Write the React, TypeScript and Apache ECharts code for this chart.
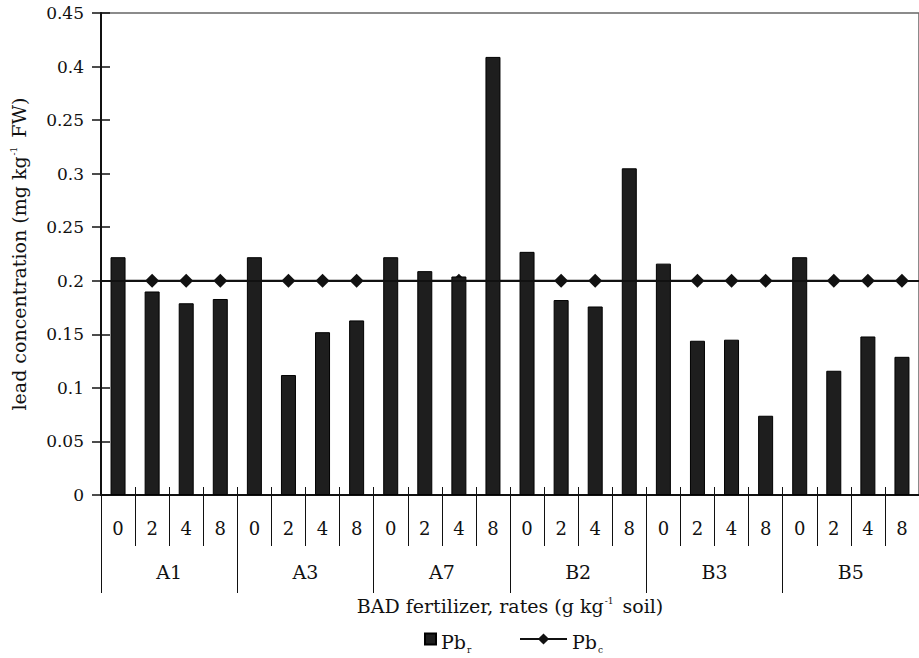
import React, { useEffect, useRef } from "react";
import * as echarts from "echarts";

const groups = ["A1", "A3", "A7", "B2", "B3", "B5"];
const rates = ["0", "2", "4", "8"];
const pbr = [
  0.222, 0.19, 0.179, 0.183,
  0.222, 0.112, 0.152, 0.163,
  0.222, 0.209, 0.204, 0.409,
  0.227, 0.182, 0.176, 0.305,
  0.216, 0.144, 0.145, 0.074,
  0.222, 0.116, 0.148, 0.129,
];
const pbc = [
  0.2, 0.2, 0.2, 0.2,
  0.2, 0.2, 0.2, 0.2,
  0.2, 0.2, 0.2, 0.2,
  0.2, 0.2, 0.2, 0.2,
  0.2, 0.2, 0.2, 0.2,
  0.2, 0.2, 0.2, 0.2,
];
const limitValue = 0.2;
const yTickLabels = ["0", "0.05", "0.1", "0.15", "0.2", "0.25", "0.3", "0.25", "0.4", "0.45"];

const FONT = "DejaVu Serif";
const INK = "#111";

export default function App() {
  const ref = useRef<HTMLDivElement>(null);
  useEffect(() => {
    if (!ref.current) return;
    const chart = echarts.init(ref.current, undefined, { renderer: "svg" });
    const cats: string[] = [];
    groups.forEach((g) => rates.forEach((r) => cats.push(r)));
    const txt = { fontFamily: FONT, color: INK };
    const legendRich = {
      b: { fontFamily: FONT, fontSize: 19, color: INK, lineHeight: 24, verticalAlign: "bottom" },
      s: { fontFamily: FONT, fontSize: 9, color: INK, lineHeight: 24, verticalAlign: "bottom", padding: [0, 0, -3, 1] },
    };
    const supRich = {
      sup: { fontFamily: FONT, fontSize: 9, color: INK, verticalAlign: "top", padding: [0, 3, 10, 1] },
    };
    chart.setOption({
      animation: false,
      backgroundColor: "#fff",
      grid: {
        left: 101, top: 13, width: 822, height: 482,
        show: true, borderColor: "#666", borderWidth: 1.5,
      },
      legend: [
        {
          data: ["Pbr"], left: 419, top: 627, icon: "rect",
          itemWidth: 11, itemHeight: 11, itemGap: 4,
          formatter: () => "{b|Pb}{s|r}",
          textStyle: { ...txt, rich: legendRich },
        },
        {
          data: ["Pbc"], left: 514, top: 627,
          itemWidth: 47, itemHeight: 14,
          formatter: () => "{b|Pb}{s|c}",
          textStyle: { ...txt, rich: legendRich },
        },
      ],
      xAxis: [
        {
          type: "category", data: cats, position: "bottom",
          axisLine: { show: true, lineStyle: { color: INK, width: 2 } },
          axisTick: { show: true, interval: 0, length: 51, lineStyle: { color: INK, width: 1 } },
          axisLabel: { interval: 0, margin: 24, fontSize: 18, ...txt },
          splitLine: { show: false },
        },
        {
          type: "category", data: groups, position: "bottom",
          axisLine: { show: false },
          axisTick: { show: true, interval: 0, length: 98, lineStyle: { color: INK, width: 1 } },
          axisLabel: { interval: 0, margin: 67, fontSize: 19, ...txt },
          splitLine: { show: false },
          name: "BAD fertilizer, rates (g kg{sup|-1} soil)",
          nameLocation: "middle", nameGap: 101,
          nameTextStyle: { ...txt, fontSize: 19, rich: supRich },
        },
        {
          type: "category", data: cats, position: "bottom",
          axisLine: { show: false },
          axisTick: { show: true, inside: true, interval: 0, length: 8, lineStyle: { color: INK, width: 1 } },
          axisLabel: { show: false },
          splitLine: { show: false },
        },
      ],
      yAxis: [
        {
          type: "value", min: 0, max: 0.45, interval: 0.05,
          axisLine: { show: true, lineStyle: { color: INK, width: 2 } },
          axisTick: { show: true, length: 9, lineStyle: { color: INK, width: 1.5 } },
          axisLabel: {
            margin: 17, fontSize: 17, ...txt,
            formatter: (_v: number, i: number) => yTickLabels[i],
          },
          splitLine: { show: false },
          name: "lead concentration (mg kg{sup|-1} FW)",
          nameLocation: "middle", nameGap: 73,
          nameTextStyle: { ...txt, fontSize: 19, rich: supRich },
        },
        {
          type: "value", min: 0, max: 0.45, interval: 0.05, position: "left",
          axisLine: { show: false },
          axisTick: { show: true, inside: true, length: 9, lineStyle: { color: INK, width: 1.5 } },
          axisLabel: { show: false },
          splitLine: { show: false },
        },
      ],
      series: [
        {
          name: "Pbr", type: "bar", data: pbr, xAxisIndex: 0, yAxisIndex: 0,
          barWidth: 15, z: 3,
          itemStyle: { color: "#1e1e1e", borderColor: "#000", borderWidth: 1 },
        },
        {
          name: "Pbc", type: "line", data: pbc, xAxisIndex: 0, yAxisIndex: 0,
          symbol: "diamond", symbolSize: 14, z: 2,
          itemStyle: { color: INK },
          lineStyle: { color: INK, width: 2 },
          markLine: {
            silent: true, symbol: "none",
            label: { show: false },
            lineStyle: { color: INK, width: 2, type: "solid" },
            data: [{ yAxis: limitValue }],
          },
        },
      ],
    });
    return () => chart.dispose();
  }, []);
  return <div ref={ref} style={{ width: 919, height: 658, position: "absolute", left: 0, top: 0 }} />;
}
